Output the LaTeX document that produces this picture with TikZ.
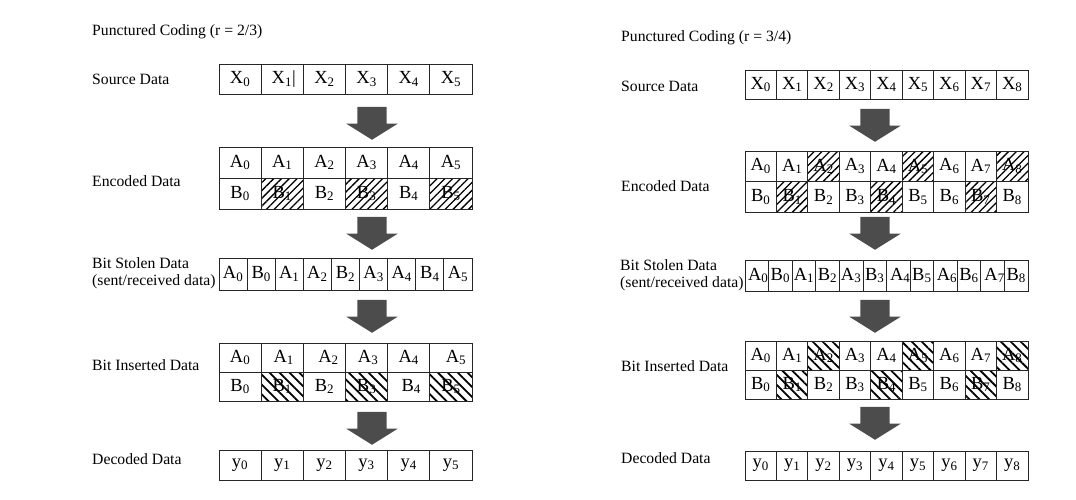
\documentclass[tikz,border=0pt]{standalone}
\usepackage{fontspec}
\setmainfont{Liberation Serif}
\usetikzlibrary{patterns.meta,shapes.arrows}

\newcommand{\cellfont}{\fontsize{18.5}{20}\selectfont}

\begin{document}
\begin{tikzpicture}[x=1pt, y=-1pt,
    lbl/.style={anchor=west, inner sep=0pt, font=\fontsize{15.7}{16.5}\selectfont, align=left},
    cell/.style={draw=black!85, line width=0.8pt, inner sep=0pt, font=\cellfont},
    fwdhatch/.style={pattern={Lines[angle=45,distance=5.5pt,line width=1.3pt]}},
    backhatch/.style={pattern={Lines[angle=-45,distance=7pt,line width=1.8pt]}},
    bigarrow/.style={single arrow, draw=none, fill=black!70, shape border rotate=270,
        minimum height=33pt, minimum width=51pt, single arrow head extend=11pt,
        single arrow tip angle=116, inner sep=0pt, anchor=tip}]
\useasboundingbox (0,0) rectangle (1076,499);

% ---------------- Left: r = 2/3 ----------------
\node[lbl] (ltitle) at (92,32) {Punctured Coding (r = 2/3)};

% Source data
\node[lbl] (lsrclbl) at (92,79) {Source Data};
\foreach \i/\dx in {0/0,1/3,2/0,3/0,4/0,5/0}
    \node[cell, minimum width=42.17pt, minimum height=30pt] (lsrc\i) at ({219+42.17*(\i+0.5)},79)
        {\hspace*{\dx pt}X\textsubscript{\i}\ifnum\i=1 \textbar\fi};
\node[bigarrow] (la1) at (372,140) {\rule{29pt}{0pt}};

% Encoded data
\node[lbl] (lenclbl) at (92,181) {Encoded Data};
\foreach \i in {0,...,5}
    \node[cell, minimum width=42.17pt, minimum height=31pt] (lenca\i) at ({219+42.17*(\i+0.5)},162.5)
        {A\textsubscript{\i}};
\foreach \i/\h in {0/,1/fwdhatch,2/,3/fwdhatch,4/,5/fwdhatch}
    \node[cell, \h, minimum width=42.17pt, minimum height=31pt] (lencb\i) at ({219+42.17*(\i+0.5)},193.5)
        {B\textsubscript{\i}};
\node[bigarrow] (la2) at (372,250) {\rule{29pt}{0pt}};

% Bit stolen data
\node[lbl] (lstlbl) at (92,273) {Bit Stolen Data\\(sent/received data)};
\foreach \t/\s [count=\k from 0] in {A/0,B/0,A/1,A/2,B/2,A/3,A/4,B/4,A/5}
    \node[cell, minimum width=28.11pt, minimum height=32pt] (lst\k) at ({219+28.11*(\k+0.5)},274)
        {\t\textsubscript{\s}};
\node[bigarrow] (la3) at (372,333) {\rule{29pt}{0pt}};

% Bit inserted data
\node[lbl] (linslbl) at (92,365) {Bit Inserted Data};
\foreach \i/\dx in {0/0,1/3,2/8,3/3,4/0,5/10}
    \node[cell, minimum width=42.17pt, minimum height=29pt] (linsa\i) at ({219+42.17*(\i+0.5)},357.5)
        {\hspace*{\dx pt}A\textsubscript{\i}};
\foreach \i/\h/\dx in {0//0,1/backhatch/0,2//0,3/backhatch/0,4//5,5/backhatch/0}
    \node[cell, \h, minimum width=42.17pt, minimum height=29pt] (linsb\i) at ({219+42.17*(\i+0.5)},386.5)
        {\hspace*{\dx pt}B\textsubscript{\i}};
\node[bigarrow] (la4) at (372,445) {\rule{29pt}{0pt}};

% Decoded data
\node[lbl] (ldeclbl) at (92,459) {Decoded Data};
\foreach \i in {0,...,5}
    \node[cell, minimum width=42.17pt, minimum height=30pt] (ldec\i) at ({219+42.17*(\i+0.5)},465)
        {y\textsubscript{\i}};

% ---------------- Right: r = 3/4 ----------------
\node[lbl] (rtitle) at (621,38) {Punctured Coding (r = 3/4)};

% Source data
\node[lbl] (rsrclbl) at (621,86) {Source Data};
\foreach \i in {0,...,8}
    \node[cell, minimum width=31.44pt, minimum height=29pt] (rsrc\i) at ({745+31.44*(\i+0.5)},84.5)
        {X\textsubscript{\i}};
\node[bigarrow] (ra1) at (875,142) {\rule{29pt}{0pt}};

% Encoded data
\node[lbl] (renclbl) at (621,186) {Encoded Data};
\foreach \i/\h in {0/,1/,2/fwdhatch,3/,4/,5/fwdhatch,6/,7/,8/fwdhatch}
    \node[cell, \h, minimum width=31.44pt, minimum height=30.5pt] (renca\i) at ({745+31.44*(\i+0.5)},166.25)
        {A\textsubscript{\i}};
\foreach \i/\h in {0/,1/fwdhatch,2/,3/,4/fwdhatch,5/,6/,7/fwdhatch,8/}
    \node[cell, \h, minimum width=31.44pt, minimum height=30.5pt] (rencb\i) at ({745+31.44*(\i+0.5)},196.75)
        {B\textsubscript{\i}};
\node[bigarrow] (ra2) at (875,250) {\rule{29pt}{0pt}};

% Bit stolen data
\node[lbl] (rstlbl) at (620,275) {Bit Stolen Data\\(sent/received data)};
\foreach \t/\s/\dx [count=\k from 0] in {A/0/3,B/0/0,A/1/0,B/2/0,A/3/0,B/3/0,A/4/4,B/5/0,A/6/3,B/6/0,A/7/4,B/8/0}
    \node[cell, minimum width=23.58pt, minimum height=31pt] (rst\k) at ({745+23.58*(\k+0.5)},275.5)
        {\hspace*{\dx pt}\t\textsubscript{\s}};
\node[bigarrow] (ra3) at (875,333) {\rule{29pt}{0pt}};

% Bit inserted data
\node[lbl] (rinslbl) at (621,366) {Bit Inserted Data};
\foreach \i/\h in {0/,1/,2/backhatch,3/,4/,5/backhatch,6/,7/,8/backhatch}
    \node[cell, \h, minimum width=31.44pt, minimum height=29pt] (rinsa\i) at ({745+31.44*(\i+0.5)},355.5)
        {A\textsubscript{\i}};
\foreach \i/\h in {0/,1/backhatch,2/,3/,4/backhatch,5/,6/,7/backhatch,8/}
    \node[cell, \h, minimum width=31.44pt, minimum height=29pt] (rinsb\i) at ({745+31.44*(\i+0.5)},384.5)
        {B\textsubscript{\i}};
\node[bigarrow] (ra4) at (875,440) {\rule{29pt}{0pt}};

% Decoded data
\node[lbl] (rdeclbl) at (621,458) {Decoded Data};
\foreach \i in {0,...,8}
    \node[cell, minimum width=31.44pt, minimum height=29pt] (rdec\i) at ({745+31.44*(\i+0.5)},465.5)
        {y\textsubscript{\i}};
\end{tikzpicture}
\end{document}
